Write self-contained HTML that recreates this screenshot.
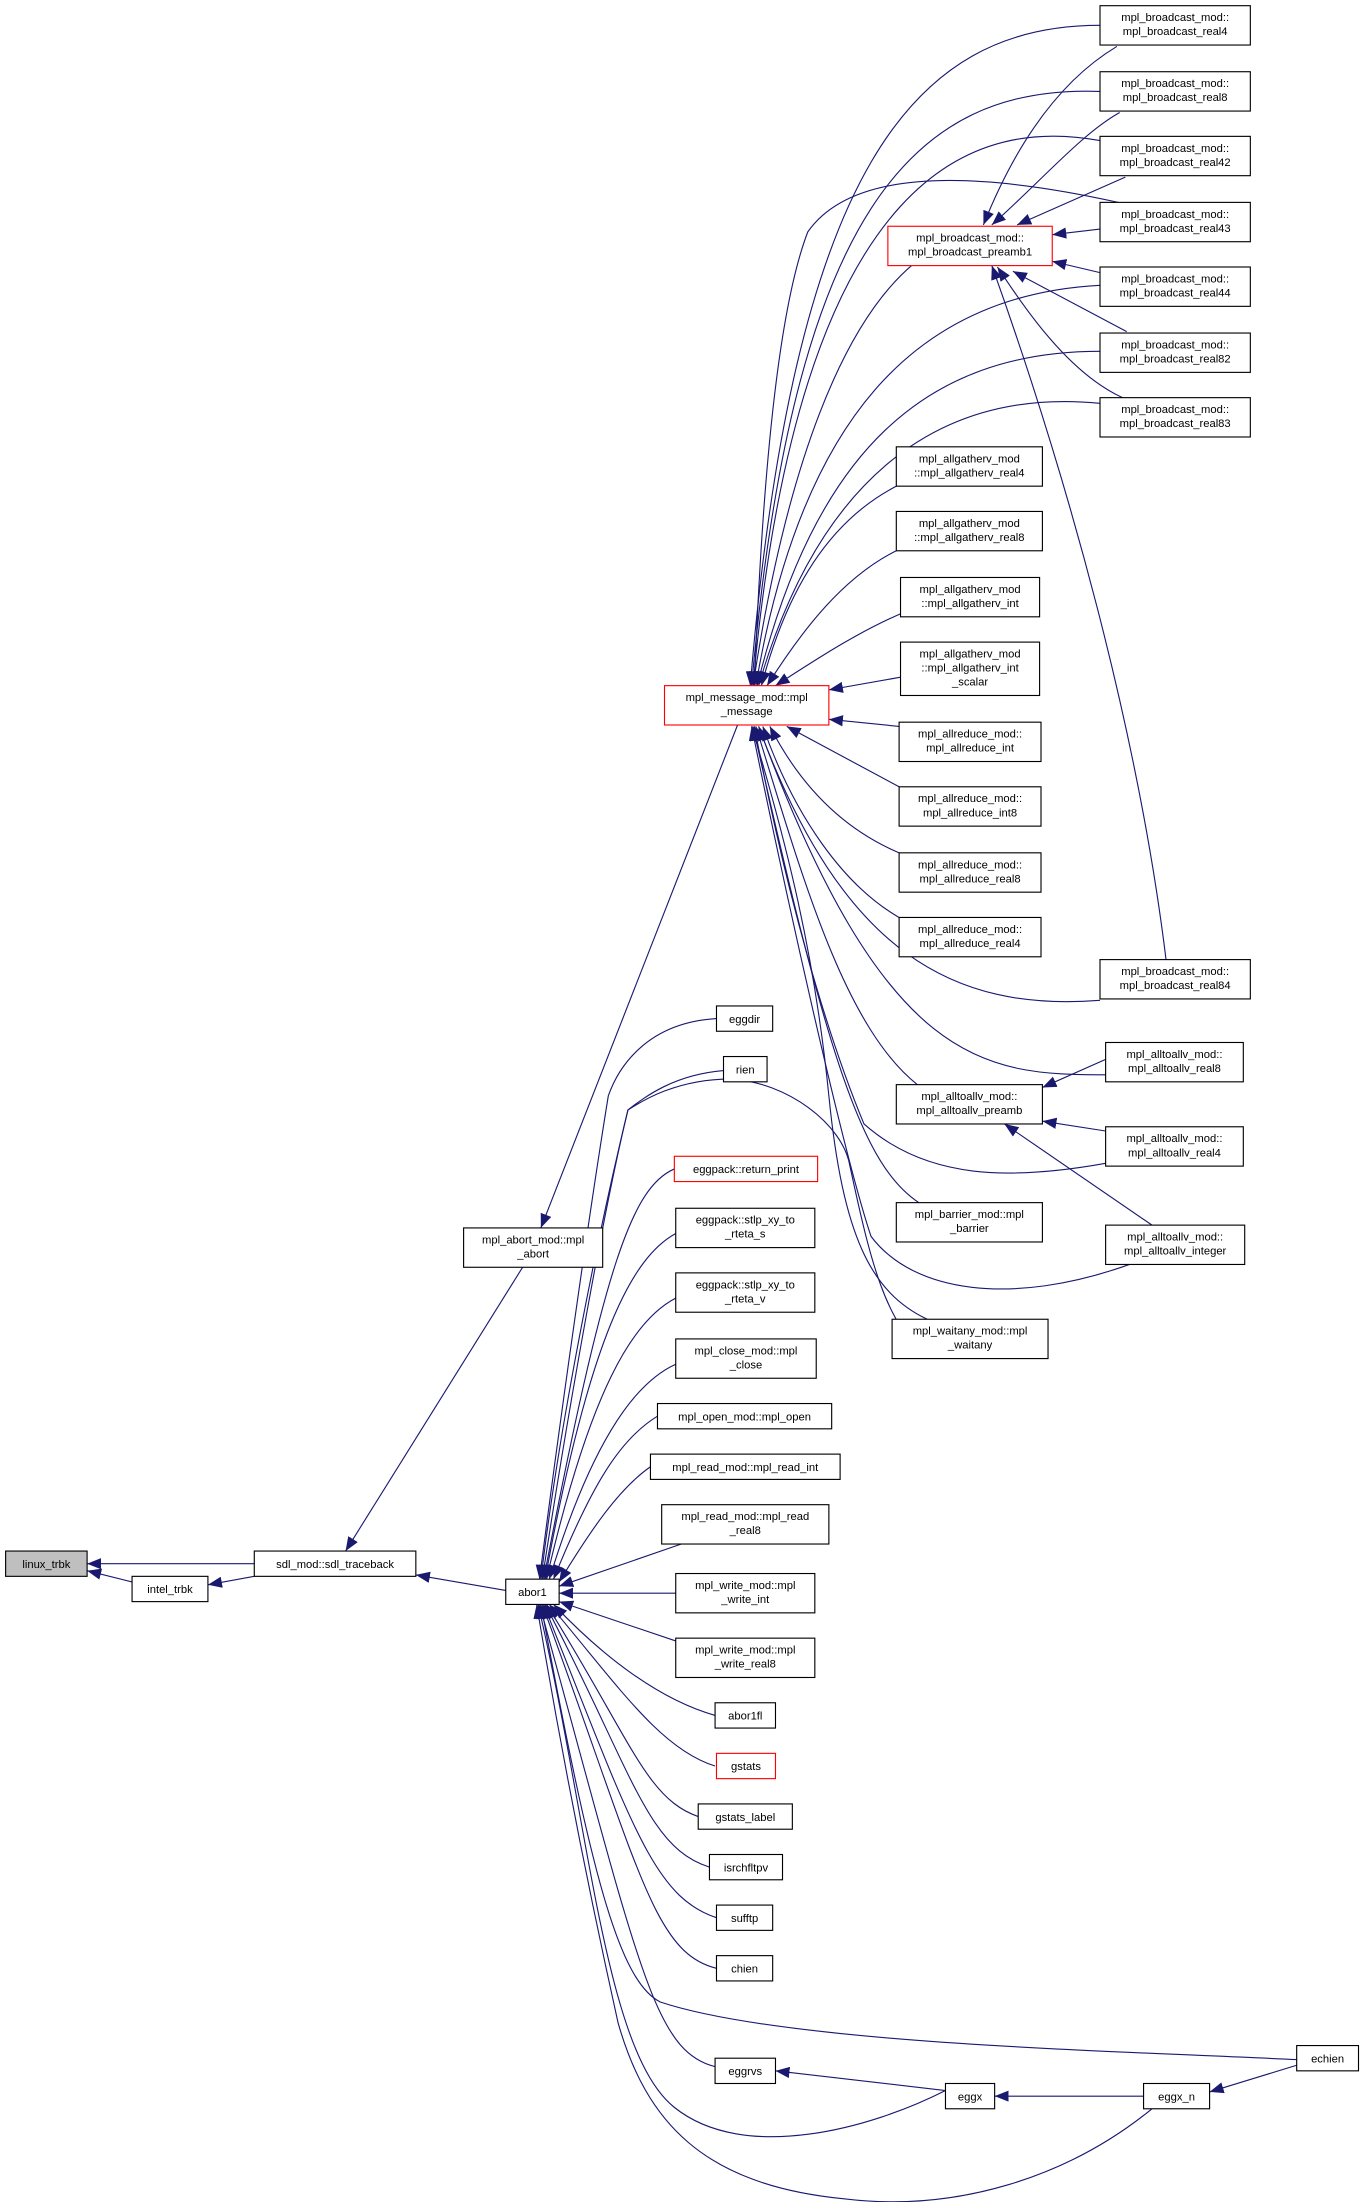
<!DOCTYPE html>
<html><head><meta charset="utf-8"><style>
html,body{margin:0;padding:0;background:#fff;}
svg{display:block;}
text{font-family:"Liberation Sans",sans-serif;font-size:8px;fill:#000;text-anchor:middle;}
.n{fill:#fff;stroke:#000;stroke-width:0.8;}
.r{fill:#fff;stroke:#f00;stroke-width:0.8;}
.e{fill:none;stroke:#191970;stroke-width:0.8;marker-end:url(#a);}
</style></head><body>
<svg width="1363" height="2202" viewBox="0 0 970.2 1567.3" xmlns="http://www.w3.org/2000/svg">
<defs><marker id="a" viewBox="0 0 10 8" refX="10" refY="4" markerWidth="10" markerHeight="8" markerUnits="userSpaceOnUse" orient="auto"><path d="M0,0 L10,4 L0,8 z" fill="#191970"/></marker></defs>

<path class="e" d="M181,1113 L62,1113"/>
<path class="e" d="M94,1126 L62,1118"/>
<path class="e" d="M181,1122 L148,1128"/>
<path class="e" d="M360,1132 L296,1121"/>
<path class="e" d="M372,902 L246,1104"/>
<path class="e" d="M525,516 L385,874"/>

<path class="e" d="M783,18 C650,18 565,120 534,488"/>
<path class="e" d="M783,65 C650,60 565,150 535,488"/>
<path class="e" d="M783,100 C700,85 570,110 536,488"/>
<path class="e" d="M796,144 C710,125 610,115 575,165 C550,230 541,380 537,488"/>
<path class="e" d="M783,203 C650,210 570,300 538,488"/>
<path class="e" d="M783,250 C660,250 580,320 539,488"/>
<path class="e" d="M783,287 C660,275 580,350 540,488"/>
<path class="e" d="M795,33 C750,60 720,110 700,160"/>
<path class="e" d="M797,80 C770,95 740,130 706,160"/>
<path class="e" d="M801,126 L724,160"/>
<path class="e" d="M783,163 L749,167"/>
<path class="e" d="M783,194 L749,186"/>
<path class="e" d="M802,236 L721,193"/>
<path class="e" d="M799,283 C760,265 730,220 710,190"/>
<path class="e" d="M830,683 C810,520 760,340 706,189"/>
<path class="e" d="M650,188 C600,230 560,330 536,488"/>

<path class="e" d="M640,345 C590,370 560,420 542,488"/>
<path class="e" d="M640,391 C600,410 570,450 546,488"/>
<path class="e" d="M643,436 C610,450 580,470 552,488"/>
<path class="e" d="M641,482 L590,491"/>
<path class="e" d="M640,517 L590,512"/>
<path class="e" d="M640,560 L560,517"/>
<path class="e" d="M640,607 C600,590 570,560 548,517"/>
<path class="e" d="M640,653 C600,630 565,580 543,517"/>
<path class="e" d="M783,712 C680,720 600,680 540,517"/>
<path class="e" d="M787,765 C700,765 630,760 540,517"/>
<path class="e" d="M653,772 C600,730 570,620 538,517"/>
<path class="e" d="M787,828 C720,840 660,840 615,800 C590,740 560,640 537,517"/>
<path class="e" d="M654,856 C615,830 590,760 536,517"/>
<path class="e" d="M804,900 C720,930 650,920 620,880 C600,820 560,640 535,517"/>
<path class="e" d="M660,939 C620,920 600,880 590,780 C580,680 560,600 535,517"/>
<path class="e" d="M787,754 L742,774"/>
<path class="e" d="M787,805 L742,798"/>
<path class="e" d="M820,872 L715,800"/>

<path class="e" d="M510,725 C460,728 440,760 433,780 C420,860 400,1000 384,1124"/>
<path class="e" d="M515,762 C480,765 460,780 447,790 C430,860 400,1000 385,1124"/>
<path class="e" d="M660,967 C630,940 620,900 605,830 C600,800 560,770 520,768 C480,768 455,785 447,790 C430,860 405,1000 386,1124"/>
<path class="e" d="M480,832 C450,845 430,900 387,1124"/>
<path class="e" d="M481,878 C450,895 420,950 388,1124"/>
<path class="e" d="M481,924 C450,940 420,990 389,1124"/>
<path class="e" d="M481,971 C450,985 420,1030 391,1124"/>
<path class="e" d="M468,1008 C440,1025 420,1060 394,1124"/>
<path class="e" d="M463,1044 C440,1060 420,1090 398,1126"/>
<path class="e" d="M485,1099 L398,1129"/>
<path class="e" d="M481,1134 L398,1134"/>
<path class="e" d="M481,1168 L398,1140"/>
<path class="e" d="M509,1221 C470,1210 430,1180 394,1142"/>
<path class="e" d="M509,1257 C470,1245 440,1200 391,1142"/>
<path class="e" d="M497,1293 C460,1280 450,1240 389,1142"/>
<path class="e" d="M505,1329 C460,1315 450,1260 388,1142"/>
<path class="e" d="M510,1365 C465,1350 450,1300 387,1142"/>
<path class="e" d="M510,1401 C465,1390 455,1330 386,1142"/>
<path class="e" d="M923,1466 C800,1460 560,1455 470,1425 C440,1410 420,1330 385,1142"/>
<path class="e" d="M509,1471 C465,1460 455,1400 384,1142"/>
<path class="e" d="M673,1488 C620,1515 530,1540 480,1500 C430,1460 420,1300 383,1142"/>
<path class="e" d="M820,1501 C760,1550 680,1575 600,1565 C500,1555 460,1510 440,1440 C420,1350 400,1250 382,1142"/>
<path class="e" d="M923,1470 L861,1489"/>
<path class="e" d="M814,1492 L708,1492"/>
<path class="e" d="M673,1488 L552,1474"/>

<rect x="4" y="1104" width="58" height="18" fill="#bfbfbf" stroke="#000" stroke-width="0.8"/><text x="33" y="1116">linux_trbk</text>
<rect class="n" x="94" y="1122" width="54" height="18"/><text x="121" y="1134">intel_trbk</text>
<rect class="n" x="181" y="1104" width="115" height="18"/><text x="238.5" y="1116">sdl_mod::sdl_traceback</text>
<rect class="n" x="360" y="1124" width="38" height="18"/><text x="379" y="1136">abor1</text>
<rect class="n" x="330" y="874" width="99" height="28"/><text x="379.5" y="885">mpl_abort_mod::mpl</text><text x="379.5" y="895">_abort</text>
<rect class="r" x="473" y="488" width="117" height="28"/><text x="531.5" y="499">mpl_message_mod::mpl</text><text x="531.5" y="509">_message</text>
<rect class="r" x="632" y="161" width="117" height="28"/><text x="690.5" y="172">mpl_broadcast_mod::</text><text x="690.5" y="182">mpl_broadcast_preamb1</text>

<rect class="n" x="783" y="4" width="107" height="28"/><text x="836.5" y="15">mpl_broadcast_mod::</text><text x="836.5" y="25">mpl_broadcast_real4</text>
<rect class="n" x="783" y="51" width="107" height="28"/><text x="836.5" y="62">mpl_broadcast_mod::</text><text x="836.5" y="72">mpl_broadcast_real8</text>
<rect class="n" x="783" y="97" width="107" height="28"/><text x="836.5" y="108">mpl_broadcast_mod::</text><text x="836.5" y="118">mpl_broadcast_real42</text>
<rect class="n" x="783" y="144" width="107" height="28"/><text x="836.5" y="155">mpl_broadcast_mod::</text><text x="836.5" y="165">mpl_broadcast_real43</text>
<rect class="n" x="783" y="190" width="107" height="28"/><text x="836.5" y="201">mpl_broadcast_mod::</text><text x="836.5" y="211">mpl_broadcast_real44</text>
<rect class="n" x="783" y="237" width="107" height="28"/><text x="836.5" y="248">mpl_broadcast_mod::</text><text x="836.5" y="258">mpl_broadcast_real82</text>
<rect class="n" x="783" y="283" width="107" height="28"/><text x="836.5" y="294">mpl_broadcast_mod::</text><text x="836.5" y="304">mpl_broadcast_real83</text>
<rect class="n" x="783" y="683" width="107" height="28"/><text x="836.5" y="694">mpl_broadcast_mod::</text><text x="836.5" y="704">mpl_broadcast_real84</text>

<rect class="n" x="638" y="318" width="104" height="28"/><text x="690" y="329">mpl_allgatherv_mod</text><text x="690" y="339">::mpl_allgatherv_real4</text>
<rect class="n" x="638" y="364" width="104" height="28"/><text x="690" y="375">mpl_allgatherv_mod</text><text x="690" y="385">::mpl_allgatherv_real8</text>
<rect class="n" x="641" y="411" width="99" height="28"/><text x="690.5" y="422">mpl_allgatherv_mod</text><text x="690.5" y="432">::mpl_allgatherv_int</text>
<rect class="n" x="641" y="457" width="99" height="38"/><text x="690.5" y="468">mpl_allgatherv_mod</text><text x="690.5" y="478">::mpl_allgatherv_int</text><text x="690.5" y="488">_scalar</text>
<rect class="n" x="640" y="514" width="101" height="28"/><text x="690.5" y="525">mpl_allreduce_mod::</text><text x="690.5" y="535">mpl_allreduce_int</text>
<rect class="n" x="640" y="560" width="101" height="28"/><text x="690.5" y="571">mpl_allreduce_mod::</text><text x="690.5" y="581">mpl_allreduce_int8</text>
<rect class="n" x="640" y="607" width="101" height="28"/><text x="690.5" y="618">mpl_allreduce_mod::</text><text x="690.5" y="628">mpl_allreduce_real8</text>
<rect class="n" x="640" y="653" width="101" height="28"/><text x="690.5" y="664">mpl_allreduce_mod::</text><text x="690.5" y="674">mpl_allreduce_real4</text>
<rect class="n" x="787" y="742" width="98" height="28"/><text x="836" y="753">mpl_alltoallv_mod::</text><text x="836" y="763">mpl_alltoallv_real8</text>
<rect class="n" x="638" y="772" width="104" height="28"/><text x="690" y="783">mpl_alltoallv_mod::</text><text x="690" y="793">mpl_alltoallv_preamb</text>
<rect class="n" x="787" y="802" width="98" height="28"/><text x="836" y="813">mpl_alltoallv_mod::</text><text x="836" y="823">mpl_alltoallv_real4</text>
<rect class="n" x="638" y="856" width="104" height="28"/><text x="690" y="867">mpl_barrier_mod::mpl</text><text x="690" y="877">_barrier</text>
<rect class="n" x="787" y="872" width="99" height="28"/><text x="836.5" y="883">mpl_alltoallv_mod::</text><text x="836.5" y="893">mpl_alltoallv_integer</text>
<rect class="n" x="635" y="939" width="111" height="28"/><text x="690.5" y="950">mpl_waitany_mod::mpl</text><text x="690.5" y="960">_waitany</text>

<rect class="n" x="510" y="716" width="40" height="18"/><text x="530" y="728">eggdir</text>
<rect class="n" x="515" y="752" width="31" height="18"/><text x="530.5" y="764">rien</text>
<rect class="r" x="480" y="823" width="102" height="18"/><text x="531" y="835">eggpack::return_print</text>
<rect class="n" x="481" y="860" width="99" height="28"/><text x="530.5" y="871">eggpack::stlp_xy_to</text><text x="530.5" y="881">_rteta_s</text>
<rect class="n" x="481" y="906" width="99" height="28"/><text x="530.5" y="917">eggpack::stlp_xy_to</text><text x="530.5" y="927">_rteta_v</text>
<rect class="n" x="481" y="953" width="100" height="28"/><text x="531" y="964">mpl_close_mod::mpl</text><text x="531" y="974">_close</text>
<rect class="n" x="468" y="999" width="124" height="18"/><text x="530" y="1011">mpl_open_mod::mpl_open</text>
<rect class="n" x="463" y="1035" width="135" height="18"/><text x="530.5" y="1047">mpl_read_mod::mpl_read_int</text>
<rect class="n" x="471" y="1071" width="119" height="28"/><text x="530.5" y="1082">mpl_read_mod::mpl_read</text><text x="530.5" y="1092">_real8</text>
<rect class="n" x="481" y="1120" width="99" height="28"/><text x="530.5" y="1131">mpl_write_mod::mpl</text><text x="530.5" y="1141">_write_int</text>
<rect class="n" x="481" y="1166" width="99" height="28"/><text x="530.5" y="1177">mpl_write_mod::mpl</text><text x="530.5" y="1187">_write_real8</text>
<rect class="n" x="509" y="1212" width="43" height="18"/><text x="530.5" y="1224">abor1fl</text>
<rect class="r" x="510" y="1248" width="42" height="18"/><text x="531" y="1260">gstats</text>
<rect class="n" x="497" y="1284" width="67" height="18"/><text x="530.5" y="1296">gstats_label</text>
<rect class="n" x="505" y="1320" width="52" height="18"/><text x="531" y="1332">isrchfltpv</text>
<rect class="n" x="510" y="1356" width="40" height="18"/><text x="530" y="1368">sufftp</text>
<rect class="n" x="510" y="1392" width="40" height="18"/><text x="530" y="1404">chien</text>
<rect class="n" x="509" y="1465" width="43" height="18"/><text x="530.5" y="1477">eggrvs</text>
<rect class="n" x="673" y="1483" width="35" height="18"/><text x="690.5" y="1495">eggx</text>
<rect class="n" x="814" y="1483" width="47" height="18"/><text x="837.5" y="1495">eggx_n</text>
<rect class="n" x="923" y="1456" width="44" height="18"/><text x="945" y="1468">echien</text>
</svg>
</body></html>
